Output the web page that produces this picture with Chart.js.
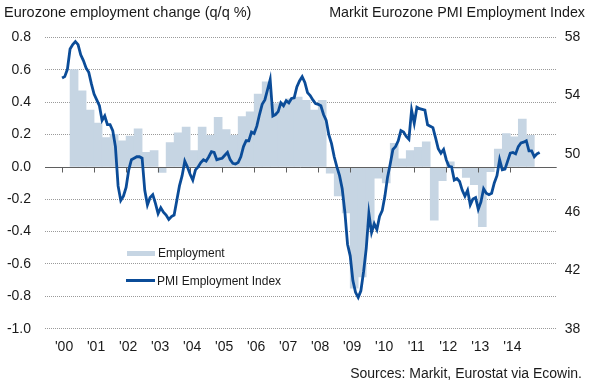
<!DOCTYPE html>
<html>
<head>
<meta charset="utf-8">
<script src="https://cdn.jsdelivr.net/npm/chart.js@4.4.1/dist/chart.umd.min.js"></script>
<style>
  body { margin: 0; background: #fff; }
  #wrap { position: relative; width: 590px; height: 389px; font-family: "Liberation Sans", Arial, sans-serif; color: #1a1a1a; }
  #wrap canvas { position: absolute; left: 0; top: 0; }
  .txt { position: absolute; white-space: nowrap; font-size: 14px; line-height: 16px; }
  .sw { position: absolute; }
</style>
</head>
<body>
<div id="wrap">
  <canvas id="chart" width="590" height="389"></canvas>
  <div class="txt" style="left:4px; top:4px; font-size:14.5px;">Eurozone employment change (q/q %)</div>
  <div class="txt" style="right:5px; top:4px; font-size:14.3px;">Markit Eurozone PMI Employment Index</div>
  <div class="txt" style="right:8px; top:365px;">Sources: Markit, Eurostat via Ecowin.</div>
  <div class="sw" style="left:127px; top:251px; width:28px; height:5px; background:#c6d5e3;"></div>
  <div class="txt" style="left:158px; top:245px; font-size:12px;">Employment</div>
  <div class="sw" style="left:126px; top:279px; width:29px; height:3px; background:#0b4c98;"></div>
  <div class="txt" style="left:157px; top:273px; font-size:12px;">PMI Employment Index</div>
</div>
<script>
// year ticks on the x axis
const years = [2000, 2001, 2002, 2003, 2004, 2005, 2006, 2007, 2008, 2009, 2010, 2011, 2012, 2013, 2014];

// Eurozone employment, q/q %, Q1 2000 .. Q4 2014 (null = not shown)
const employment = [
  null, 0.60, 0.47, 0.35,
  0.27, 0.18, 0.20, 0.16,
  0.19, 0.235, 0.09, 0.10,
  -0.035, 0.15, 0.21, 0.245,
  0.10, 0.245, 0.195, 0.305,
  0.23, 0.195, 0.31, 0.34,
  0.45, 0.525, 0.39, 0.40,
  0.42, 0.43, 0.41, 0.35,
  0.41, -0.04, -0.18, -0.285,
  -0.75, -0.68, -0.37, -0.07,
  -0.10, 0.145, 0.05, 0.10,
  0.12, 0.155, -0.33, -0.085,
  0.03, -0.01, -0.065, -0.11,
  -0.37, -0.03, 0.11, 0.205,
  0.185, 0.295, 0.195, null
];

// Markit Eurozone PMI employment index, monthly Jan 2000 .. Dec 2014
const pmi = [
  55.2, 55.3, 55.8, 57.2, 57.5, 57.7, 57.5, 56.8, 56.4, 55.9, 55.6, 54.8,
  54.1, 53.7, 53.3, 52.3, 52.6, 52.0, 52.0, 51.6, 50.5, 47.8, 46.8, 47.1,
  47.7, 48.9, 49.6, 49.7, 49.8, 49.8, 49.7, 47.5, 46.5, 47.0, 47.2, 46.6,
  45.9, 46.3, 46.0, 45.8, 45.5, 45.7, 45.8, 46.8, 47.8, 48.5, 49.5, 49.1,
  48.6, 48.2, 48.9, 49.1, 49.4, 49.6, 49.5, 49.8, 50.15, 50.1, 49.6, 49.65,
  49.7, 49.9, 50.1, 49.6, 49.35, 49.3, 49.4, 49.8, 50.5, 50.9, 50.9, 51.5,
  51.4, 51.9, 52.7, 53.4, 53.7, 54.4, 55.1, 52.6, 52.7, 52.9, 53.5, 53.3,
  53.65, 53.5, 53.8, 53.85, 54.6, 55.0, 55.3, 54.9, 54.2, 54.0, 53.7, 53.45,
  53.4, 53.3, 52.7, 52.3, 51.3, 50.7, 49.8, 49.1, 48.5, 47.6, 46.0, 43.8,
  43.0, 41.3, 40.5, 40.15, 40.6, 41.9, 43.5, 45.9, 44.6, 45.2, 44.8, 45.7,
  46.1, 47.1, 48.4, 49.3, 50.3, 50.5, 50.9, 51.6, 51.5, 51.2, 51.0, 53.0,
  52.1, 53.2, 53.1, 53.05, 53.0, 52.0, 51.9, 51.8, 51.1, 50.35, 50.05, 50.3,
  49.6, 49.15, 49.1, 48.2, 48.3, 48.1, 47.5, 47.1, 47.5, 46.5, 46.9, 47.0,
  46.2, 46.7, 47.6, 47.3, 47.2, 47.3, 48.0, 48.5, 49.6, 48.9, 48.95, 49.5,
  50.05, 50.1, 50.0, 50.5, 50.75, 50.8, 50.9, 50.2, 50.2, 49.8, 50.0, 50.1
];

const barColor = '#c6d5e3';
const lineColor = '#0b4c98';
const font = { family: '"Liberation Sans", Arial, sans-serif', size: 14 };

// bars sit on their quarter, the line on its month
const barPoints = employment.map((v, i) => ({ x: years[0] + (i + 0.5) / 4, y: v }));
const linePoints = pmi.map((v, i) => ({ x: years[0] + i / 12, y: v }));

// solid zero line with year tick marks, drawn over the bars
const zeroAxis = {
  id: 'zeroAxis',
  afterDatasetDraw(chart, args) {
    if (args.index !== 0) return;
    const { ctx, chartArea, scales } = chart;
    const y0 = Math.round(scales.y.getPixelForValue(0)) + 0.5;
    ctx.save();
    ctx.strokeStyle = '#5f5f5f';
    ctx.lineWidth = 1;
    ctx.beginPath();
    ctx.moveTo(chartArea.left, y0);
    ctx.lineTo(chartArea.right, y0);
    years.forEach(yr => {
      const px = Math.round(scales.x.getPixelForValue(yr)) + 0.5;
      ctx.moveTo(px, y0);
      ctx.lineTo(px, y0 + 5);
    });
    ctx.stroke();
    ctx.restore();
  }
};

new Chart(document.getElementById('chart'), {
  type: 'bar',
  data: {
    datasets: [{
      type: 'bar',
      label: 'Employment',
      data: barPoints,
      backgroundColor: barColor,
      borderWidth: 0,
      barPercentage: 1,
      categoryPercentage: 1,
      yAxisID: 'y',
      order: 1
    }, {
      type: 'line',
      label: 'PMI Employment Index',
      data: linePoints,
      borderColor: lineColor,
      borderWidth: 2.8,
      pointRadius: 0,
      tension: 0,
      fill: false,
      yAxisID: 'y2',
      order: 0
    }]
  },
  options: {
    responsive: false,
    animation: false,
    layout: { padding: { top: 37.3, left: 0, right: 0, bottom: 0 } },
    plugins: { legend: { display: false }, tooltip: { enabled: false } },
    scales: {
      x: {
        type: 'linear',
        min: 2000,
        max: 2014 + 11 / 12,
        grid: { display: false },
        border: { display: false },
        ticks: {
          stepSize: 1,
          includeBounds: false,
          autoSkip: false,
          maxRotation: 0,
          padding: 2,
          labelOffset: 2,
          color: '#1a1a1a',
          font: font,
          callback: v => Number.isInteger(v) ? "'" + String(v).slice(2) : ''
        },
        afterFit: s => { s.height = 389 - 328.7; }
      },
      y: {
        position: 'left',
        min: -1.0,
        max: 0.8,
        grid: {
          drawTicks: false,
          color: c => Math.abs(c.tick.value) < 1e-9 ? 'rgba(0,0,0,0)' : '#9a9a9a'
        },
        border: { display: false, dash: [1, 1] },
        ticks: {
          stepSize: 0.2,
          padding: 14,
          color: '#1a1a1a',
          font: font,
          callback: v => v.toFixed(1)
        },
        afterFit: s => { s.width = 45; }
      },
      y2: {
        position: 'right',
        min: 38,
        max: 58,
        grid: { display: false, drawTicks: false },
        border: { display: false },
        ticks: {
          stepSize: 4,
          padding: 8,
          color: '#1a1a1a',
          font: font
        },
        afterFit: s => { s.width = 590 - 556.7; }
      }
    }
  },
  plugins: [zeroAxis]
});
</script>
</body>
</html>
